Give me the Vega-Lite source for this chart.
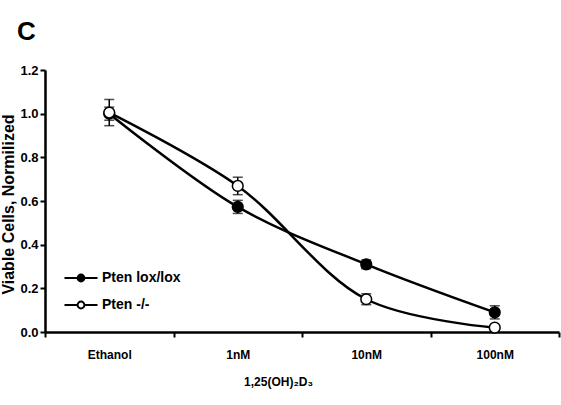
{
  "$schema": "https://vega.github.io/schema/vega-lite/v6.json",
  "width": 514,
  "height": 262,
  "autosize": {"type": "none"},
  "padding": {"left": 45, "top": 70, "right": 2, "bottom": 73},
  "background": "white",
  "config": {"view": {"stroke": null}, "font": "Liberation Sans"},
  "title": {"text": "C", "anchor": "start", "frame": "group", "fontSize": 26, "fontWeight": "bold", "dx": -28, "offset": 19, "color": "black"},
  "data": {"values": [
    {"dose": "Ethanol", "series": "Pten lox/lox", "v": 1.0, "err": 0.03},
    {"dose": "1nM", "series": "Pten lox/lox", "v": 0.573, "err": 0.03},
    {"dose": "10nM", "series": "Pten lox/lox", "v": 0.31, "err": 0.02},
    {"dose": "100nM", "series": "Pten lox/lox", "v": 0.09, "err": 0.03},
    {"dose": "Ethanol", "series": "Pten -/-", "v": 1.005, "err": 0.06},
    {"dose": "1nM", "series": "Pten -/-", "v": 0.669, "err": 0.04},
    {"dose": "10nM", "series": "Pten -/-", "v": 0.15, "err": 0.025},
    {"dose": "100nM", "series": "Pten -/-", "v": 0.02, "err": 0.01}
  ]},
  "encoding": {
    "x": {"field": "dose", "type": "nominal", "sort": ["Ethanol", "1nM", "10nM", "100nM"],
      "scale": {"paddingInner": 0, "paddingOuter": 0},
      "axis": {"title": "1,25(OH)₂D₃", "titleFontSize": 12, "titleFontWeight": "bold", "titleColor": "black",
        "titleX": 233, "titleY": 53, "titleAlign": "center", "titleBaseline": "alphabetic",
        "labelAngle": 0, "labelFontSize": 12, "labelFontWeight": "bold", "labelColor": "black", "labelPadding": 12,
        "tickBand": "extent", "tickSize": 5, "tickWidth": 2, "tickColor": "black",
        "domainColor": "black", "domainWidth": 2.5, "grid": false}},
    "y": {"field": "v", "type": "quantitative",
      "scale": {"domain": [0, 1.2], "nice": false},
      "axis": {"title": "Viable Cells, Normilized", "titleFontSize": 16, "titleFontWeight": "bold", "titleColor": "black",
        "titleX": -32, "titleY": 134, "titleAngle": -90, "titleAlign": "center", "titleBaseline": "alphabetic",
        "values": [0, 0.2, 0.4, 0.6, 0.8, 1.0, 1.2], "format": ".1f",
        "labelFontSize": 13, "labelFontWeight": "bold", "labelColor": "black", "labelPadding": 2,
        "tickSize": 5, "tickWidth": 2, "tickColor": "black",
        "domainColor": "black", "domainWidth": 2.5, "grid": false}}
  },
  "layer": [
    {"mark": {"type": "line", "interpolate": "catmull-rom", "color": "black", "strokeWidth": 2.5},
      "encoding": {"detail": {"field": "series"}}},
    {"mark": {"type": "errorbar", "color": "black", "ticks": {"size": 10, "thickness": 1.5}, "rule": {"strokeWidth": 1.5}},
      "encoding": {"yError": {"field": "err"}, "detail": {"field": "series"}}},
    {"mark": {"type": "point", "filled": false, "shape": "circle", "size": 115, "stroke": "black", "strokeWidth": 1.5, "opacity": 1},
      "encoding": {"fill": {"field": "series", "type": "nominal",
        "scale": {"domain": ["Pten lox/lox", "Pten -/-"], "range": ["black", "white"]},
        "legend": {"title": null, "orient": "none", "legendX": 24, "legendY": 196,
          "symbolType": "M-1.5,0H-0.31M0.31,0H1.5M0.31,0A0.31,0.31,0,1,1,-0.31,0A0.31,0.31,0,1,1,0.31,0Z",
          "symbolSize": 484, "symbolStrokeColor": "black", "symbolStrokeWidth": 2,
          "labelFontSize": 14, "labelFontWeight": "bold", "labelColor": "black", "labelOffset": 9, "rowPadding": 7}}}}
  ]
}
